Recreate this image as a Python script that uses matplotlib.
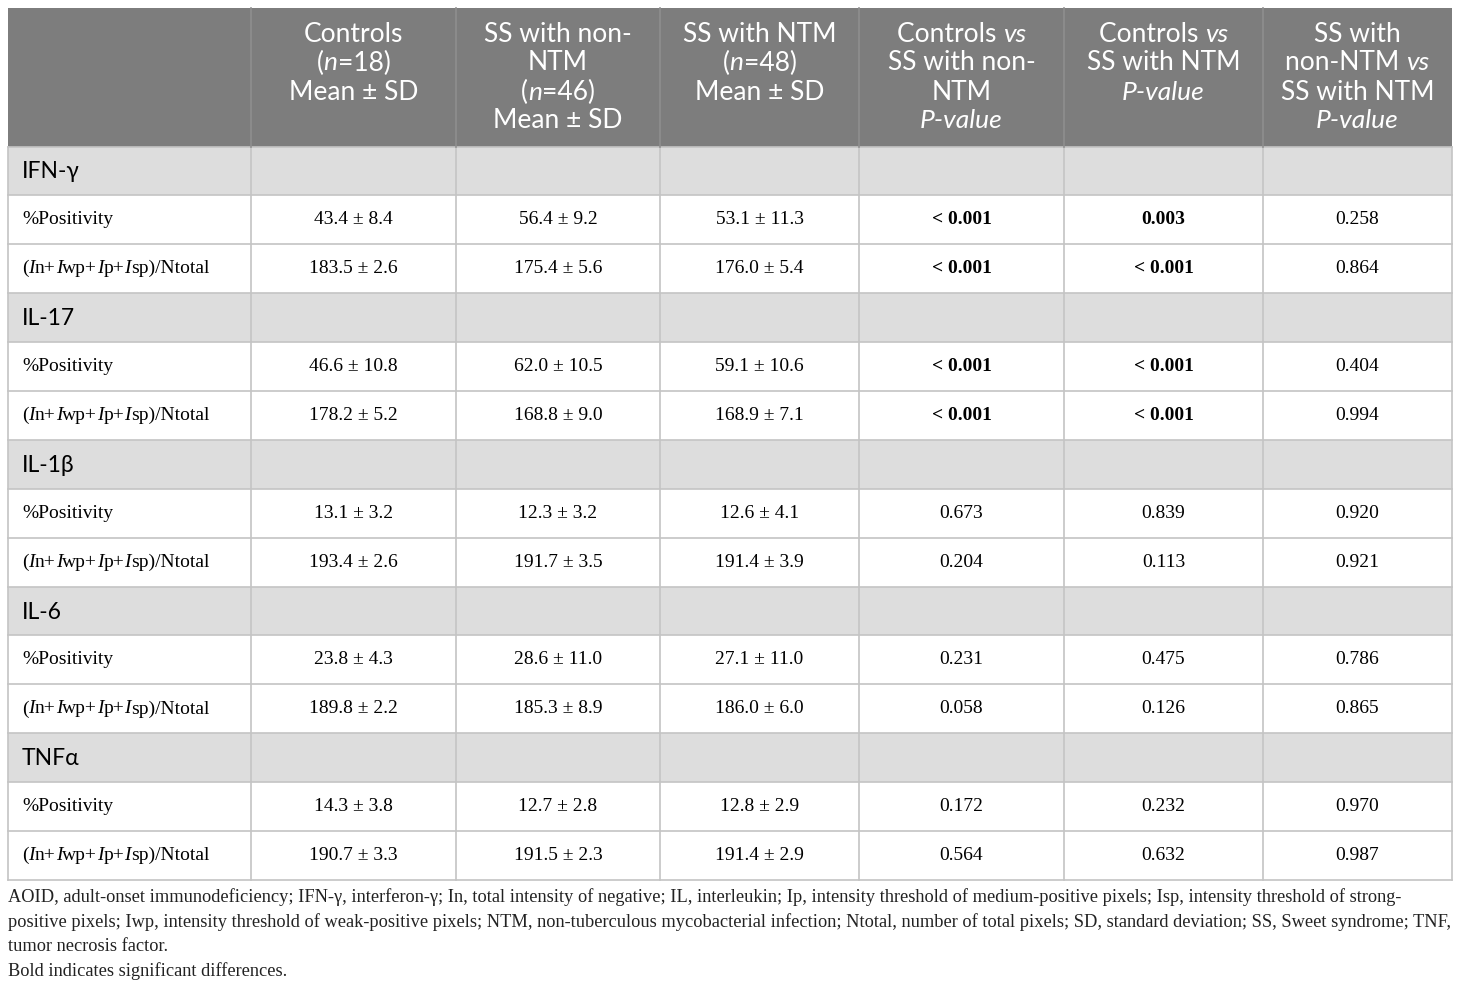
import matplotlib
matplotlib.use('Agg')
import matplotlib.pyplot as plt
from matplotlib.patches import Rectangle

# data
cytokines = ['IFN-γ', 'IL-17', 'IL-1β', 'IL-6', 'TNFα']
measures = ['%Positivity', 'ratio']
ctrl_mean = [43.4, 183.5, 46.6, 178.2, 13.1, 193.4, 23.8, 189.8, 14.3, 190.7]
ctrl_sd = [8.4, 2.6, 10.8, 5.2, 3.2, 2.6, 4.3, 2.2, 3.8, 3.3]
nonntm_mean = [56.4, 175.4, 62.0, 168.8, 12.3, 191.7, 28.6, 185.3, 12.7, 191.5]
nonntm_sd = [9.2, 5.6, 10.5, 9.0, 3.2, 3.5, 11.0, 8.9, 2.8, 2.3]
ntm_mean = [53.1, 176.0, 59.1, 168.9, 12.6, 191.4, 27.1, 186.0, 12.8, 191.4]
ntm_sd = [11.3, 5.4, 10.6, 7.1, 4.1, 3.9, 11.0, 6.0, 2.9, 2.9]
p_ctrl_nonntm = ['< 0.001', '< 0.001', '< 0.001', '< 0.001', '0.673', '0.204', '0.231', '0.058', '0.172', '0.564']
p_ctrl_ntm = ['0.003', '< 0.001', '< 0.001', '< 0.001', '0.839', '0.113', '0.475', '0.126', '0.232', '0.632']
p_nonntm_ntm = ['0.258', '0.864', '0.404', '0.994', '0.920', '0.921', '0.786', '0.865', '0.970', '0.987']

# header lines, segments as (text, italic)
headers = [
    [],
    [[('Controls', 0)], [('(', 0), ('n', 1), ('=18)', 0)], [('Mean ± SD', 0)]],
    [[('SS with non-', 0)], [('NTM', 0)], [('(', 0), ('n', 1), ('=46)', 0)], [('Mean ± SD', 0)]],
    [[('SS with NTM', 0)], [('(', 0), ('n', 1), ('=48)', 0)], [('Mean ± SD', 0)]],
    [[('Controls ', 0), ('vs', 1)], [('SS with non-', 0)], [('NTM', 0)], [('P-value', 1)]],
    [[('Controls ', 0), ('vs', 1)], [('SS with NTM', 0)], [('P-value', 1)]],
    [[('SS with', 0)], [('non-NTM ', 0), ('vs', 1)], [('SS with NTM', 0)], [('P-value', 1)]],
]
footnote = [
    'AOID, adult-onset immunodeficiency; IFN-γ, interferon-γ; In, total intensity of negative; IL, interleukin; Ip, intensity threshold of medium-positive pixels; Isp, intensity threshold of strong-',
    'positive pixels; Iwp, intensity threshold of weak-positive pixels; NTM, non-tuberculous mycobacterial infection; Ntotal, number of total pixels; SD, standard deviation; SS, Sweet syndrome; TNF,',
    'tumor necrosis factor.',
    'Bold indicates significant differences.',
]

col_x = [8, 251, 456, 660, 859, 1064, 1263, 1452]
top, head_bot, row_h = 8, 146.5, 48.9

SANS = 'Lato'
SERIF = 'Liberation Serif'
HEAD_BG = '#7d7d7d'
GROUP_BG = '#dddddd'
LINE = '#c4c4c4'
BODY = 14

fig = plt.figure(figsize=(14.6, 9.9), dpi=100)
ax = fig.add_axes([0, 0, 1, 1])
ax.set_xlim(0, 1460)
ax.set_ylim(990, 0)
ax.axis('off')
fig.canvas.draw()
renderer = fig.canvas.get_renderer()


def rich(xc, y, parts, size, family, color='black', ha='center'):
    # draw mixed italic/upright pieces, centred on xc (or starting at xc)
    objs = []
    for txt, it in parts:
        t = ax.text(0, y, txt, fontsize=size, family=family, color=color,
                    style='italic' if it else 'normal',
                    va='center', ha='left')
        objs.append(t)
    widths = [t.get_window_extent(renderer).width for t in objs]
    x = xc - sum(widths) / 2 if ha == 'center' else xc
    for t, w in zip(objs, widths):
        t.set_x(x)
        x += w


# header
ax.add_patch(Rectangle((col_x[0], top), col_x[-1] - col_x[0], head_bot - top,
                       facecolor=HEAD_BG, edgecolor='none'))
for j, lines in enumerate(headers):
    xc = (col_x[j] + col_x[j + 1]) / 2
    for k, parts in enumerate(lines):
        rich(xc, 34 + 29 * k, parts, 19, SANS, color='white')

# body
pcols = [p_ctrl_nonntm, p_ctrl_ntm, p_nonntm_ntm]
ratio_label = [('(', 0), ('I', 1), ('n+', 0), ('I', 1), ('wp+', 0), ('I', 1),
               ('p+', 0), ('I', 1), ('sp)/Ntotal', 0)]
y = head_bot
for g, name in enumerate(cytokines):
    ax.add_patch(Rectangle((col_x[0], y), col_x[-1] - col_x[0], row_h,
                           facecolor=GROUP_BG, edgecolor='none'))
    ax.text(22, y + row_h / 2 + 1, name, fontsize=16.5, family=SANS, va='center')
    ax.plot([col_x[0], col_x[-1]], [y, y], color=LINE, lw=1.2)
    y += row_h
    for m in range(2):
        i = 2 * g + m
        yc = y + row_h / 2
        if m == 0:
            ax.text(22, yc, '%Positivity', fontsize=BODY, family=SERIF, va='center')
        else:
            rich(22, yc, ratio_label, BODY, SERIF, ha='left')
        vals = [(ctrl_mean[i], ctrl_sd[i]), (nonntm_mean[i], nonntm_sd[i]),
                (ntm_mean[i], ntm_sd[i])]
        for j, (mu, sd) in enumerate(vals):
            xc = (col_x[j + 1] + col_x[j + 2]) / 2
            ax.text(xc, yc, f'{mu:.1f} ± {sd:.1f}', fontsize=BODY, family=SERIF,
                    ha='center', va='center')
        for j, pc in enumerate(pcols):
            xc = (col_x[j + 4] + col_x[j + 5]) / 2
            p = pc[i]
            sig = p.startswith('<') or float(p) < 0.05
            ax.text(xc, yc, p, fontsize=BODY, family=SERIF, ha='center', va='center',
                    weight='bold' if sig else 'normal')
        ax.plot([col_x[0], col_x[-1]], [y, y], color=LINE, lw=1.2)
        y += row_h

ax.plot([col_x[0], col_x[-1]], [y, y], color=LINE, lw=1.2)
for j, x in enumerate(col_x):
    ax.plot([x, x], [head_bot, y], color=LINE, lw=1.2)
    if 0 < j < len(col_x) - 1:
        ax.plot([x, x], [top, head_bot], color='#8e8e8e', lw=1.2)

# footnote: pick a size so the longest line spans the table width
foot = []
for k, line in enumerate(footnote):
    foot.append(ax.text(8, 897 + 24.7 * k, line, fontsize=13.6, family=SERIF,
                        va='center', ha='left', color='#222222'))
widest = max(t.get_window_extent(renderer).width for t in foot)
fs = 13.6 * (col_x[-1] - col_x[0] - 2) / widest
for t in foot:
    t.set_fontsize(fs)

fig.savefig('out.png', dpi=100)
